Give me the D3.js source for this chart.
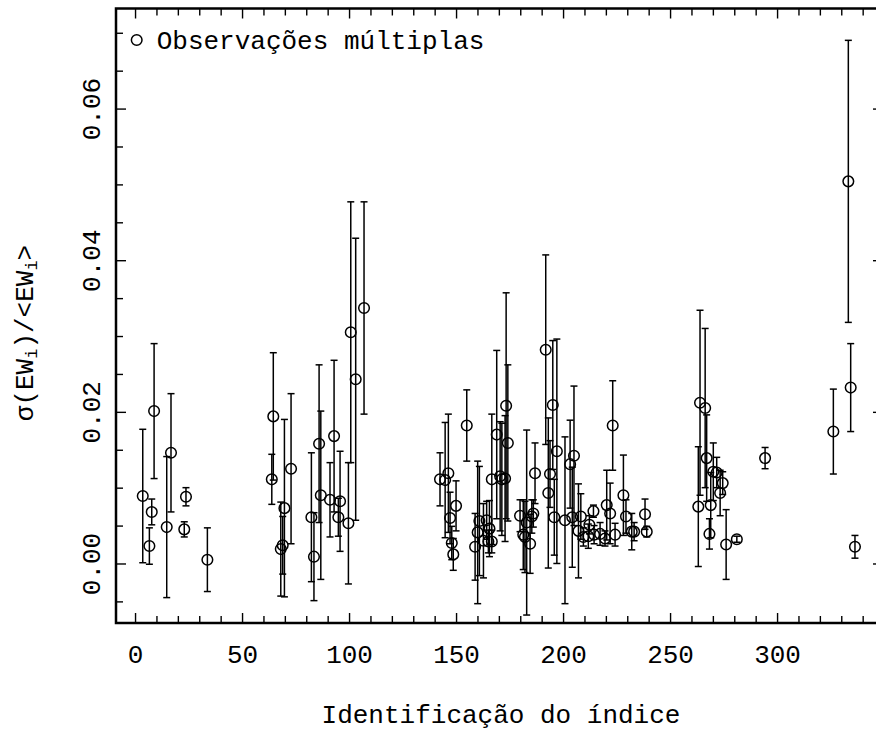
<!DOCTYPE html>
<html>
<head>
<meta charset="utf-8">
<script src="https://cdn.jsdelivr.net/npm/d3@7"></script>
<style>
  body { margin: 0; background: #fff; }
  text { font-family: "Liberation Mono", "DejaVu Sans Mono", monospace; fill: #000; }
</style>
</head>
<body>
<div id="wrapper"></div>
<script>
// índice de cada observação
const ids = [
  3.6, 6.7, 7.8, 8.9, 14.8, 16.8, 23.0, 23.8, 33.8,
  63.9, 64.6, 68.1, 69.0, 69.8, 72.9, 82.4, 83.6, 86.0, 86.8, 91.1, 93.0, 95.0, 95.8, 99.7, 100.8, 103.1, 107.0,
  142.5, 144.9, 146.4, 147.2, 148.0, 148.7, 150.0, 155.0, 158.9, 160.1, 160.9, 164.3, 162.8, 165.6, 165.1, 166.7,
  166.7, 169.0, 170.6, 171.4, 172.9, 173.4, 174.2, 179.9, 181.4, 183.0, 182.2, 184.6, 185.4, 186.1, 186.9,
  191.9, 193.1, 193.9, 195.2, 197.1, 195.9, 200.9, 203.3, 205.1, 204.3, 207.2, 208.3, 209.5, 212.3, 211.8,
  214.2, 214.5, 217.3, 219.6, 220.4, 222.0, 223.2, 224.3, 228.2, 229.4, 232.1, 233.2, 238.3, 239.1,
  263.2, 264.0, 266.4, 267.1, 268.4, 269.0, 270.2, 271.8, 273.4, 274.6, 276.2, 281.2, 294.4,
  326.3, 333.3, 334.4, 336.4
]
// sigma(EW)/<EW>
const values = [
  0.0089, 0.0023, 0.0068, 0.0201, 0.0048, 0.0146, 0.0045, 0.0088, 0.0005,
  0.0111, 0.0194, 0.0019, 0.0024, 0.0073, 0.0125, 0.0061, 0.0009, 0.0158, 0.0090, 0.0084, 0.0168, 0.0061, 0.0082, 0.0053, 0.0305, 0.0243, 0.0337,
  0.0111, 0.0110, 0.0119, 0.0060, 0.0027, 0.0012, 0.0076, 0.0182, 0.0022, 0.0041, 0.0056, 0.0057, 0.0030, 0.0046, 0.0029, 0.0029,
  0.0111, 0.0170, 0.0115, 0.0111, 0.0112, 0.0208, 0.0159, 0.0063, 0.0038, 0.0054, 0.0035, 0.0026, 0.0062, 0.0066, 0.0119,
  0.0282, 0.0093, 0.0118, 0.0209, 0.0148, 0.0061, 0.0057, 0.0131, 0.0142, 0.0061, 0.0043, 0.0062, 0.0035, 0.0051, 0.0036,
  0.0069, 0.0038, 0.0039, 0.0033, 0.0077, 0.0066, 0.0182, 0.0038, 0.0090, 0.0062, 0.0042, 0.0042, 0.0065, 0.0042,
  0.0075, 0.0212, 0.0205, 0.0139, 0.0039, 0.0077, 0.0121, 0.0120, 0.0093, 0.0106, 0.0025, 0.0032, 0.0139,
  0.0174, 0.0504, 0.0232, 0.0022
]
// barras de erro (meia largura)
const errors = [
  0.0088, 0.0024, 0.0017, 0.0089, 0.0093, 0.0078, 0.0010, 0.0012, 0.0042,
  0.0033, 0.0084, 0.0062, 0.0038, 0.0117, 0.0099, 0.0085, 0.0058, 0.0104, 0.0111, 0.0049, 0.0100, 0.0025, 0.0066, 0.0080, 0.0172, 0.0186, 0.0140,
  0.0035, 0.0076, 0.0078, 0.0034, 0.0022, 0.0021, 0.0033, 0.0047, 0.0044, 0.0094, 0.0072, 0.0025, 0.0049, 0.0037, 0.0015, 0.0015,
  0.0086, 0.0111, 0.0072, 0.0074, 0.0083, 0.0149, 0.0103, 0.0021, 0.0046, 0.0122, 0.0047, 0.0039, 0.0022, 0.0018, 0.0040,
  0.0125, 0.0099, 0.0044, 0.0085, 0.0148, 0.0050, 0.0110, 0.0058, 0.0092, 0.0066, 0.0062, 0.0030, 0.0012, 0.0012, 0.0016,
  0.0008, 0.0012, 0.0015, 0.0010, 0.0046, 0.0040, 0.0059, 0.0015, 0.0053, 0.0022, 0.0024, 0.0012, 0.0020, 0.0007,
  0.0079, 0.0122, 0.0105, 0.0057, 0.0020, 0.0043, 0.0038, 0.0020, 0.0030, 0.0015, 0.0046, 0.0004, 0.0014,
  0.0056, 0.0186, 0.0058, 0.0015
]

const xTicks = [0, 50, 100, 150, 200, 250, 300]
const yTicks = [0, 0.02, 0.04, 0.06]
const legendLabel = "Observações múltiplas"
const xLabel = "Identificação do índice"

const dataset = ids.map((id, i) => ({ id: id, value: values[i], err: errors[i] }))
const xAccessor = d => d.id
const yAccessor = d => d.value

// dimensions
let dimensions = {
    width: 876,
    height: 732,
    margin: { top: 8.5, right: -7, bottom: 109, left: 116 }
}
dimensions.boundedWidth = dimensions.width - dimensions.margin.left - dimensions.margin.right
dimensions.boundedHeight = dimensions.height - dimensions.margin.top - dimensions.margin.bottom

const wrapper = d3.select("#wrapper")
    .append("svg")
    .attr("width", dimensions.width)
    .attr("height", dimensions.height)

const bounds = wrapper.append("g")
    .attr("transform", `translate(${dimensions.margin.left},${dimensions.margin.top})`)

// scales
const xScale = d3.scaleLinear()
    .domain([-8.9, 349.5])
    .range([0, dimensions.boundedWidth])

const yScale = d3.scaleLinear()
    .domain([-0.00785, 0.0732])
    .range([dimensions.boundedHeight, 0])

const xMinor = d3.range(0, 350, 10).filter(v => v % 50 !== 0)
const yMinor = d3.range(-0.005, 0.0731, 0.005).filter(v => Math.abs(Math.round(v / 0.02) * 0.02 - v) > 1e-9)

// axes, ticks pointing inward
function drawAxis(gen, transform, cls) {
    const g = bounds.append("g").attr("class", cls).attr("transform", transform).call(gen)
    g.select(".domain").remove()
    g.selectAll("line").attr("stroke", "#000").attr("stroke-width", 1.4)
    return g
}

const xAxis = drawAxis(d3.axisBottom(xScale).tickValues(xTicks).tickSize(-10).tickPadding(22).tickFormat(d3.format("d")),
    `translate(0,${dimensions.boundedHeight})`, "x-axis")
xAxis.selectAll("text").style("font-size", "26px")
drawAxis(d3.axisBottom(xScale).tickValues(xMinor).tickSize(-7).tickFormat(""), `translate(0,${dimensions.boundedHeight})`, "x-minor")
drawAxis(d3.axisTop(xScale).tickValues(xTicks).tickSize(-10).tickFormat(""), "translate(0,0)", "x-top")
drawAxis(d3.axisTop(xScale).tickValues(xMinor).tickSize(-7).tickFormat(""), "translate(0,0)", "x-top-minor")

const yAxis = drawAxis(d3.axisLeft(yScale).tickValues(yTicks).tickSize(-10).tickFormat(d3.format(".2f")), "translate(0,0)", "y-axis")
yAxis.selectAll("text")
    .attr("x", null).attr("dy", null)
    .attr("text-anchor", "middle")
    .attr("transform", "translate(-16,0) rotate(-90)")
    .style("font-size", "26px")
drawAxis(d3.axisLeft(yScale).tickValues(yMinor).tickSize(-7).tickFormat(""), "translate(0,0)", "y-minor")
drawAxis(d3.axisRight(yScale).tickValues(yTicks).tickSize(-10).tickFormat(""), `translate(${dimensions.boundedWidth},0)`, "y-right")
drawAxis(d3.axisRight(yScale).tickValues(yMinor).tickSize(-7).tickFormat(""), `translate(${dimensions.boundedWidth},0)`, "y-right-minor")

// frame
bounds.append("rect")
    .attr("width", dimensions.boundedWidth)
    .attr("height", dimensions.boundedHeight)
    .attr("fill", "none")
    .attr("stroke", "#000")
    .attr("stroke-width", 2.5)

// error bars
const bars = bounds.append("g")
    .selectAll("g")
    .data(dataset)
    .enter().append("g")
    .attr("stroke", "#000")
    .attr("stroke-width", 1.5)

bars.append("line")
    .attr("x1", d => xScale(xAccessor(d)))
    .attr("x2", d => xScale(xAccessor(d)))
    .attr("y1", d => yScale(d.value - d.err))
    .attr("y2", d => yScale(d.value + d.err))

bars.append("line")
    .attr("x1", d => xScale(xAccessor(d)) - 3.5)
    .attr("x2", d => xScale(xAccessor(d)) + 3.5)
    .attr("y1", d => yScale(d.value + d.err))
    .attr("y2", d => yScale(d.value + d.err))

bars.append("line")
    .attr("x1", d => xScale(xAccessor(d)) - 3.5)
    .attr("x2", d => xScale(xAccessor(d)) + 3.5)
    .attr("y1", d => yScale(d.value - d.err))
    .attr("y2", d => yScale(d.value - d.err))

// points
bounds.append("g")
    .selectAll("circle")
    .data(dataset)
    .enter().append("circle")
    .attr("cx", d => xScale(xAccessor(d)))
    .attr("cy", d => yScale(yAccessor(d)))
    .attr("r", 5.3)
    .attr("fill", "none")
    .attr("stroke", "#000")
    .attr("stroke-width", 1.5)

// legend
const legend = bounds.append("g").attr("transform", "translate(20.7,31.5)")
legend.append("circle").attr("r", 5.3).attr("fill", "none").attr("stroke", "#000").attr("stroke-width", 1.5)
legend.append("text").attr("x", 20).attr("y", 8.5).style("font-size", "26px").text(legendLabel)

// axis labels
wrapper.append("text")
    .attr("x", 501)
    .attr("y", 723)
    .attr("text-anchor", "middle")
    .style("font-size", "26px")
    .text(xLabel)

const yLabel = wrapper.append("text")
    .attr("transform", "translate(33,333) rotate(-90)")
    .attr("text-anchor", "middle")
    .style("font-size", "26px")
yLabel.append("tspan").text("σ(EW")
yLabel.append("tspan").style("font-size", "17px").attr("baseline-shift", "-4").text("i")
yLabel.append("tspan").text(")/<EW")
yLabel.append("tspan").style("font-size", "17px").attr("baseline-shift", "-4").text("i")
yLabel.append("tspan").text(">")
</script>
</body>
</html>
